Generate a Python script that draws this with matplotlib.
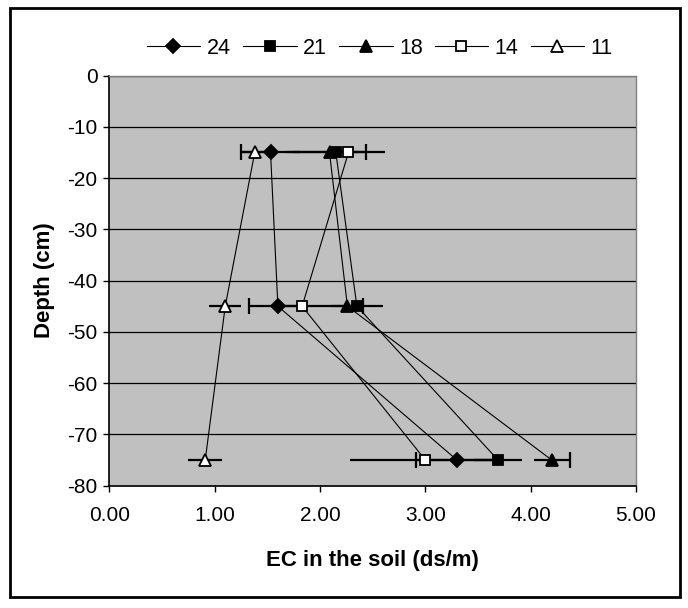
import matplotlib
matplotlib.use("Agg")
import matplotlib.pyplot as plt
from matplotlib.patches import Rectangle
from matplotlib.ticker import FormatStrFormatter

plt.rcParams['font.family'] = ['Liberation Sans', 'DejaVu Sans']
plt.rcParams['axes.unicode_minus'] = False

# depth of each sampling layer (cm)
depth = [-15, -45, -75]

# EC readings and error half-widths for each series
labels = ['24', '21', '18', '14', '11']
ec_24 = [1.53, 1.60, 3.30]
ec_21 = [2.15, 2.35, 3.69]
ec_18 = [2.09, 2.26, 4.20]
ec_14 = [2.27, 1.83, 3.00]
ec_11 = [1.38, 1.10, 0.91]
err_24 = [0.28, 0.27, 0.39]
err_21 = [0.47, 0.25, 0.23]
err_18 = [0.35, 0.15, 0.17]
err_14 = [0.10, 0.28, 0.72]
err_11 = [0.12, 0.15, 0.16]

x_ticks = [0, 1, 2, 3, 4, 5]
y_ticks = [0, -10, -20, -30, -40, -50, -60, -70, -80]

# marker style per series: (marker, size, facecolor)
styles = {
    '24': ('D', 7.5, 'black'),
    '21': ('s', 7.5, 'black'),
    '18': ('^', 9, 'black'),
    '14': ('s', 7.5, 'white'),
    '11': ('^', 9, 'white'),
}
series = {'24': (ec_24, err_24), '21': (ec_21, err_21), '18': (ec_18, err_18),
          '14': (ec_14, err_14), '11': (ec_11, err_11)}

fig = plt.figure(figsize=(6.88, 6.08), dpi=100)
ax = fig.add_axes([0.159, 0.2012, 0.7654, 0.6745])
ax.set_facecolor('#C0C0C0')

# error bars first, then connecting lines and markers on top
for lab in labels:
    ec, err = series[lab]
    ax.errorbar(ec, depth, xerr=err, fmt='none', ecolor='black', elinewidth=1.6,
                capsize=0, zorder=3)

# caps only on the minus end of series 24 and the plus end of series 18
ax.plot([e - d for e, d in zip(ec_24, err_24)], depth, ls='none', marker='|',
        ms=11, mew=1.6, color='black', zorder=3)
ax.plot([e + d for e, d in zip(ec_18, err_18)], depth, ls='none', marker='|',
        ms=11, mew=1.6, color='black', zorder=3)

handles = []
for lab in labels:
    ec, err = series[lab]
    m, ms, fc = styles[lab]
    h, = ax.plot(ec, depth, color='black', lw=0.8, marker=m, ms=ms,
                 markerfacecolor=fc, markeredgecolor='black', mew=1.3,
                 label=lab, zorder=4)
    handles.append(h)

ax.set_xlim(0, 5)
ax.set_ylim(-80, 0)
ax.set_xticks(x_ticks)
ax.set_yticks(y_ticks)
ax.xaxis.set_major_formatter(FormatStrFormatter('%.2f'))
ax.yaxis.grid(True, color='black', lw=0.9)
ax.set_axisbelow(True)
ax.tick_params(direction='out', length=4.5, width=1, labelsize=15, pad=4)
ax.tick_params(axis='x', pad=10)

for s in ['top', 'right']:
    ax.spines[s].set_color('#808080')
    ax.spines[s].set_linewidth(1)
for s in ['left', 'bottom']:
    ax.spines[s].set_color('black')
    ax.spines[s].set_linewidth(1.2)

ax.set_xlabel('EC in the soil (ds/m)', fontsize=16, fontweight='bold', labelpad=18)
ax.set_ylabel('Depth (cm)', fontsize=16, fontweight='bold', labelpad=9)

fig.legend(handles=handles, labels=labels, loc='center', bbox_to_anchor=(0.552, 0.921),
           ncol=5, frameon=False, fontsize=15.5, handlelength=2.5,
           handletextpad=0.3, columnspacing=0.55)

# outer chart border
fig.patches.append(Rectangle((0.014, 0.018), 0.974, 0.969, transform=fig.transFigure,
                             fill=False, edgecolor='black', lw=2))

fig.savefig('out.png', dpi=100)
